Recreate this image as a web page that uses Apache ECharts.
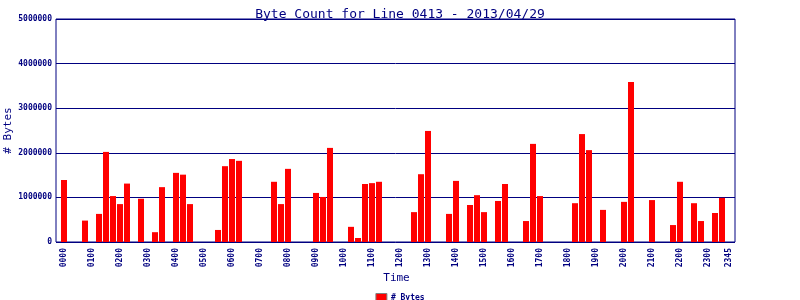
<!DOCTYPE html>
<html>
<head>
<meta charset="utf-8">
<script src="https://cdn.jsdelivr.net/npm/echarts@6/dist/echarts.min.js"></script>
<style>html,body{margin:0;padding:0;background:#fff}#c{width:800px;height:300px}</style>
</head>
<body>
<div id="c"></div>
<script>
const titleText = "Byte Count for Line 0413 - 2013/04/29";
const categories = [
"0000","0015","0030","0045","0100","0115","0130","0145","0200","0215","0230","0245",
"0300","0315","0330","0345","0400","0415","0430","0445","0500","0515","0530","0545",
"0600","0615","0630","0645","0700","0715","0730","0745","0800","0815","0830","0845",
"0900","0915","0930","0945","1000","1015","1030","1045","1100","1115","1130","1145",
"1200","1215","1230","1245","1300","1315","1330","1345","1400","1415","1430","1445",
"1500","1515","1530","1545","1600","1615","1630","1645","1700","1715","1730","1745",
"1800","1815","1830","1845","1900","1915","1930","1945","2000","2015","2030","2045",
"2100","2115","2130","2145","2200","2215","2230","2245","2300","2315","2330","2345"];
const byteCounts = [
1390000,0,0,480000,0,630000,2020000,1030000,850000,1310000,0,970000,
0,220000,1230000,0,1550000,1510000,850000,0,0,0,270000,1700000,
1860000,1820000,0,0,0,0,1350000,850000,1640000,0,0,0,
1100000,1010000,2110000,0,0,340000,90000,1300000,1320000,1350000,0,0,
0,0,670000,1520000,2490000,0,0,630000,1370000,0,830000,1050000,
670000,0,920000,1300000,0,0,470000,2200000,1030000,0,0,0,
0,870000,2420000,2060000,0,720000,0,0,900000,3590000,0,0,
940000,0,0,380000,1350000,0,870000,470000,0,650000,990000,0];
const yMin = 0, yMax = 5000000, yStep = 1000000;

const navy = '#000080';
const mono = 'DejaVu Sans Mono';
const chart = echarts.init(document.getElementById('c'), null, {renderer: 'canvas'});
chart.setOption({
  animation: false,
  title: {text: titleText, left: 'center', top: 3,
    textStyle: {color: navy, fontSize: 13, fontWeight: 'normal', fontFamily: mono}},
  legend: {data: ['# Bytes'], left: 'center', top: 288, itemWidth: 11, itemHeight: 8, itemGap: 4,
    icon: 'rect', itemStyle: {borderColor: '#808080', borderWidth: 1},
    textStyle: {color: navy, fontSize: 8, fontWeight: 'bold', fontFamily: mono, padding: [0,0,0,-1]}},
  grid: [
    {left: 56, top: 19, width: 679, height: 223, show: true, borderColor: navy, borderWidth: 1,
      backgroundColor: 'transparent', containLabel: false, outerBoundsMode: 'none'},
    {left: 60.5, top: 19, width: 672, height: 223, containLabel: false, outerBoundsMode: 'none'}
  ],
  xAxis: [
    {type: 'value', gridIndex: 0, show: false, min: 0, max: 1},
    {type: 'category', gridIndex: 1, data: categories, boundaryGap: true,
      axisLine: {show: false}, axisTick: {show: false},
      name: 'Time', nameLocation: 'middle', nameGap: 31, nameMoveOverlap: false,
      nameTextStyle: {color: navy, fontSize: 11, fontFamily: mono},
      axisLabel: {rotate: 90, margin: 6, color: navy, fontSize: 8, fontWeight: 'bold', fontFamily: mono,
        interval: (i) => i % 4 === 0 || i === categories.length - 1}}
  ],
  yAxis: [
    {type: 'value', gridIndex: 0, min: yMin, max: yMax, interval: yStep,
      axisLine: {show: false}, axisTick: {show: false},
      splitLine: {lineStyle: {color: navy, width: 1}},
      name: '# Bytes', nameLocation: 'middle', nameGap: 42, nameRotate: 90, nameMoveOverlap: false,
      nameTextStyle: {color: navy, fontSize: 11, fontFamily: mono},
      axisLabel: {margin: 4, color: navy, fontSize: 8, fontWeight: 'bold', fontFamily: mono,
        formatter: (v) => String(v)}},
    {type: 'value', gridIndex: 1, min: yMin, max: yMax, show: false}
  ],
  series: [{
    name: '# Bytes', type: 'bar', xAxisIndex: 1, yAxisIndex: 1,
    data: byteCounts, barWidth: 6, itemStyle: {color: '#ff0000'}
  }]
});
</script>
</body>
</html>
